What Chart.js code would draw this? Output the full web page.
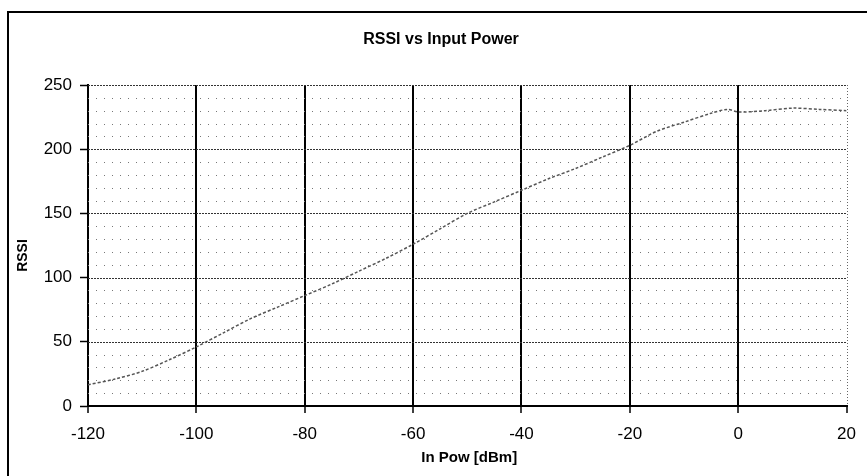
<!DOCTYPE html>
<html>
<head>
<meta charset="utf-8">
<script src="https://cdn.jsdelivr.net/npm/chart.js@4/dist/chart.umd.min.js"></script>
<style>
  html, body { margin: 0; padding: 0; background: #fff; }
  #wrap { width: 867px; height: 476px; position: relative; }
</style>
</head>
<body>
<div id="wrap"><canvas id="c" width="867" height="476"></canvas></div>
<script>
// ---- data ----
const chartTitle = "RSSI vs Input Power";
const xAxisTitle = "In Pow [dBm]";
const yAxisTitle = "RSSI";
const inPowerDbm = [-120, -115, -110, -105, -100, -95, -90, -85, -80, -75, -70, -65, -60, -55, -50, -45, -40, -35, -30, -25, -20, -15, -10, -5, -2, 0, 5, 10, 15, 20];
const rssi       = [16.5, 21, 27, 36, 46, 57, 68, 77, 86, 95, 105, 115, 126, 138, 150, 159, 168, 177, 185, 194, 203, 214, 221, 228, 231, 229, 230, 232, 231, 230];
const xMin = -120, xMax = 20, xStep = 20;
const yMin = 0, yMax = 250, yMajorStep = 50, yMinorStep = 10;

const FONT = "'Liberation Sans', Arial, sans-serif";

const decor = {
  id: 'decor',
  beforeDraw(chart) {
    const ctx = chart.ctx;
    ctx.save();
    ctx.strokeStyle = '#000';
    ctx.lineWidth = 2;
    ctx.beginPath();
    ctx.moveTo(8, 476);
    ctx.lineTo(8, 12);
    ctx.lineTo(867, 12);
    ctx.stroke();
    ctx.restore();
  },
  beforeDatasetsDraw(chart) {
    const ctx = chart.ctx;
    const xs = chart.scales.x, ys = chart.scales.y;
    const a = chart.chartArea;
    ctx.save();
    for (let v = yMin + yMinorStep; v <= yMax; v += yMinorStep) {
      const y = Math.round(ys.getPixelForValue(v)) + 0.5;
      ctx.beginPath();
      if (v % yMajorStep === 0) {
        ctx.setLineDash([2, 1]);
        ctx.strokeStyle = '#333';
      } else {
        ctx.setLineDash([1, 7]);
        ctx.strokeStyle = '#777';
      }
      ctx.lineWidth = 1;
      ctx.moveTo(a.left, y);
      ctx.lineTo(a.right, y);
      ctx.stroke();
    }
    // dotted right edge
    const xr = Math.round(xs.getPixelForValue(xMax)) + 0.5;
    ctx.setLineDash([1, 2]);
    ctx.strokeStyle = '#666';
    ctx.beginPath();
    ctx.moveTo(xr, a.top);
    ctx.lineTo(xr, a.bottom);
    ctx.stroke();
    ctx.restore();
  },
  afterDraw(chart) {
    const ctx = chart.ctx;
    const a = chart.chartArea;
    ctx.save();
    ctx.fillStyle = '#000';
    ctx.textAlign = 'center';
    ctx.textBaseline = 'middle';
    ctx.font = 'bold 16px ' + FONT;
    ctx.fillText(chartTitle, 441, 40);
    ctx.font = 'bold 15px ' + FONT;
    ctx.fillText(xAxisTitle, (a.left + a.right) / 2 + 2, 458);
    ctx.translate(23, (a.top + a.bottom) / 2 + 10);
    ctx.rotate(-Math.PI / 2);
    ctx.font = 'bold 14px ' + FONT;
    ctx.fillText(yAxisTitle, 0, 0);
    ctx.restore();
  }
};

new Chart(document.getElementById('c'), {
  type: 'line',
  data: {
    datasets: [{
      data: inPowerDbm.map((x, i) => ({ x, y: rssi[i] })),
      borderColor: '#555',
      borderWidth: 1.5,
      borderDash: [3, 2],
      pointRadius: 0,
      tension: 0.3,
      fill: false
    }]
  },
  options: {
    responsive: false,
    animation: false,
    events: [],
    layout: { autoPadding: false, padding: { top: 85, right: 12, bottom: 0, left: 0 } },
    plugins: { legend: { display: false }, title: { display: false }, tooltip: { enabled: false } },
    scales: {
      x: {
        type: 'linear',
        min: xMin, max: xMax,
        afterFit(s) { s.height = 70; },
        ticks: {
          stepSize: xStep,
          padding: 11,
          color: '#000',
          font: { family: FONT, size: 17 },
          maxRotation: 0,
          callback: v => String(v)
        },
        grid: {
          color: c => (c.tick && c.tick.value === xMax) ? 'rgba(0,0,0,0)' : '#000',
          lineWidth: 2,
          drawTicks: true,
          tickLength: 7,
          tickColor: '#000',
          tickWidth: 1.5
        },
        border: { display: true, color: '#000', width: 2 }
      },
      y: {
        type: 'linear',
        min: yMin, max: yMax,
        afterFit(s) { s.width = 88; },
        ticks: {
          stepSize: yMajorStep,
          padding: 8,
          color: '#000',
          font: { family: FONT, size: 17 }
        },
        grid: {
          drawOnChartArea: false,
          drawTicks: true,
          tickLength: 8,
          tickColor: '#000',
          tickWidth: 1.5
        },
        border: { display: true, color: '#000', width: 2 }
      }
    }
  },
  plugins: [decor]
});
</script>
</body>
</html>
